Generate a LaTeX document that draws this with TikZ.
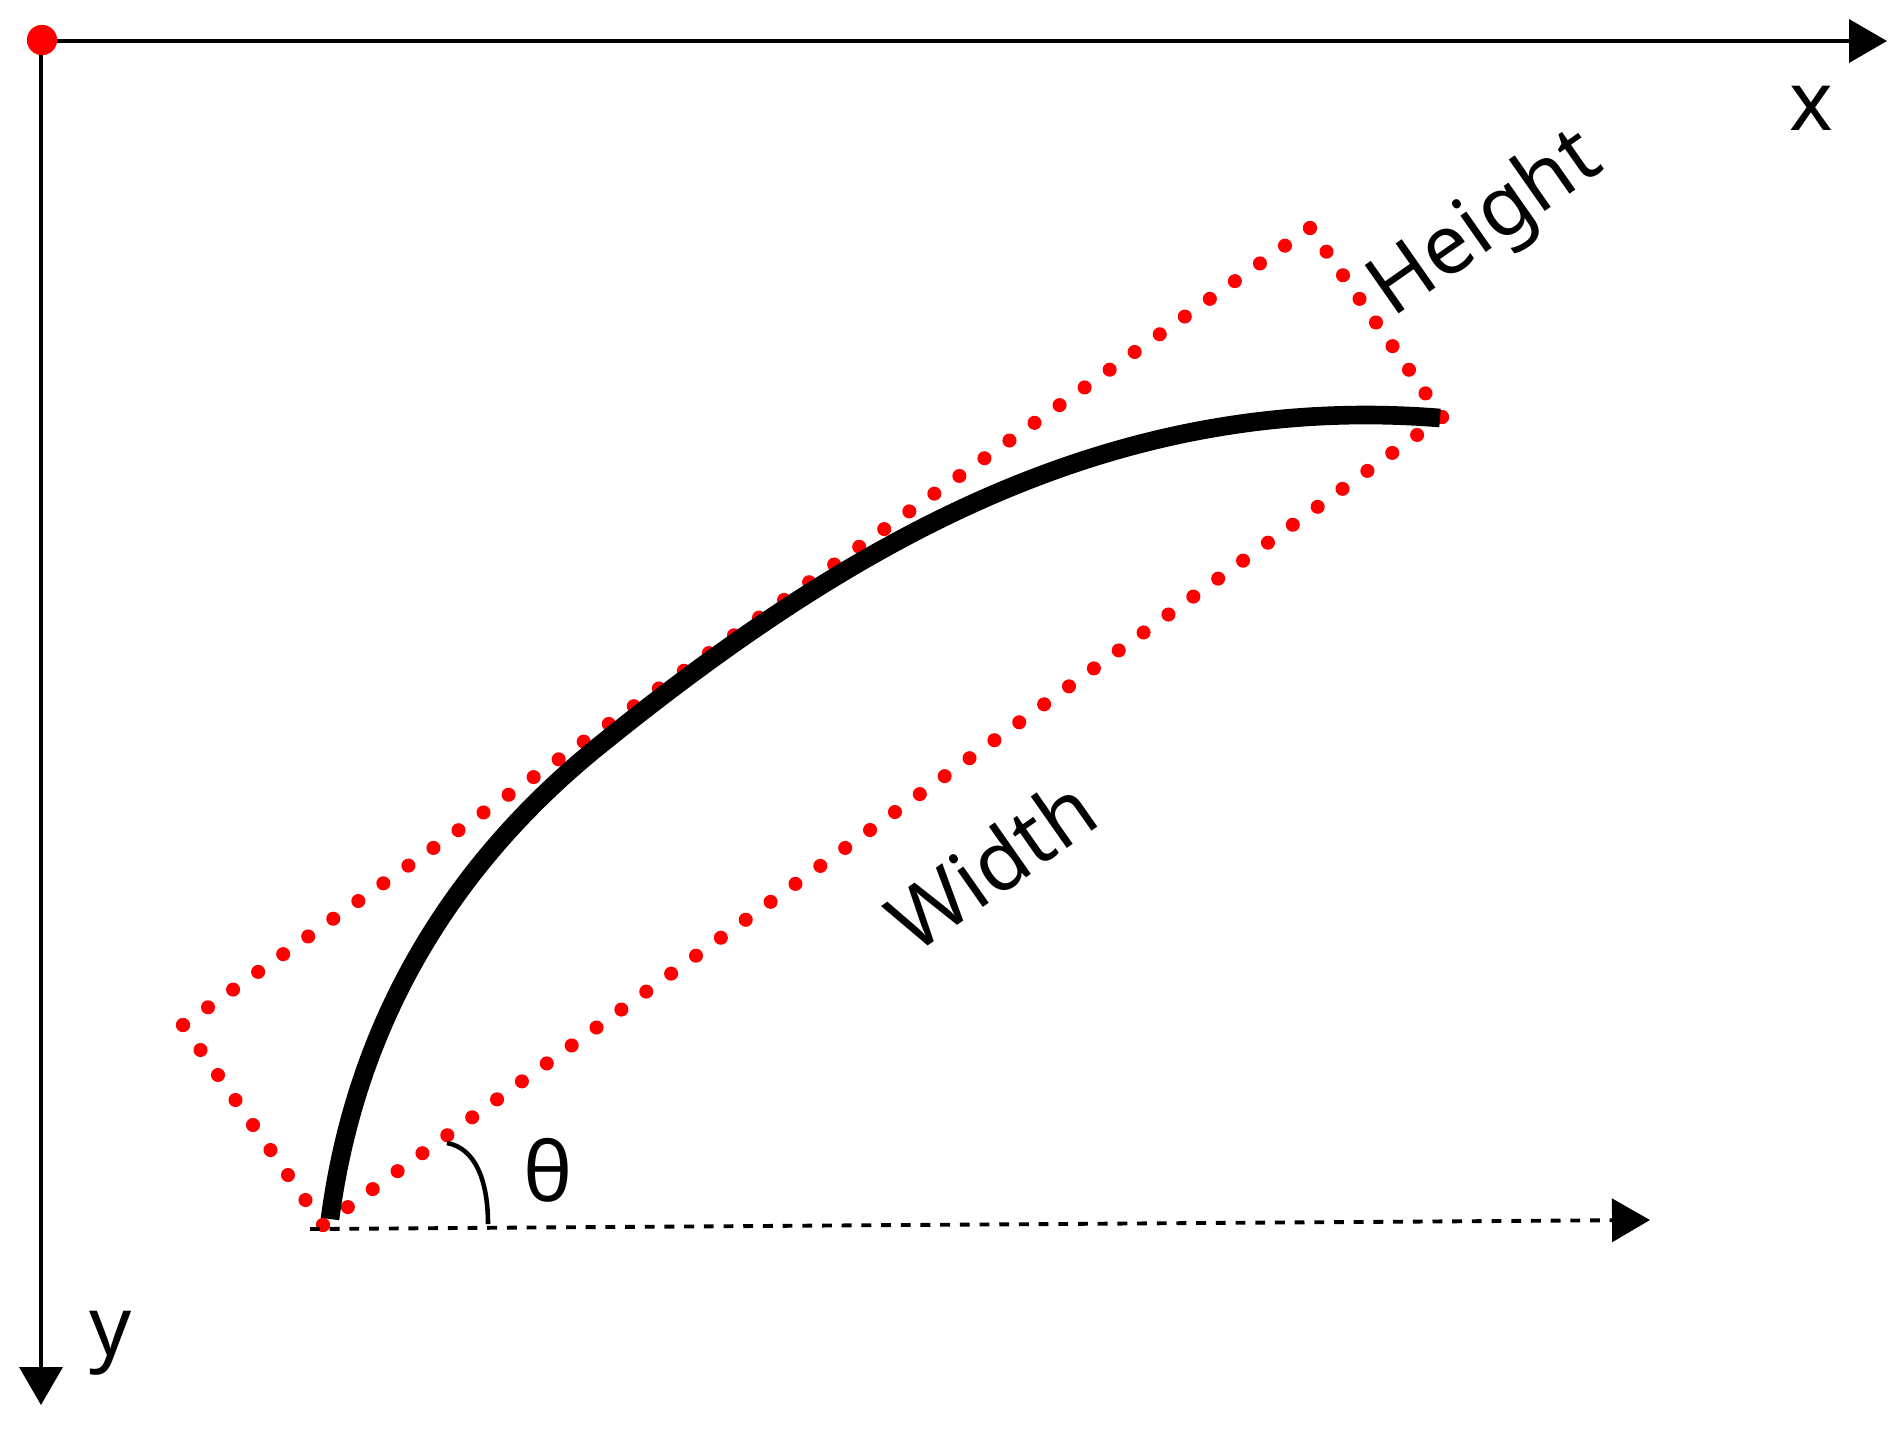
\documentclass[tikz,border=0pt]{standalone}
\usepackage{fontspec}
\setmainfont{Noto Sans}
\usetikzlibrary{arrows.meta,calc}
\begin{document}
\begin{tikzpicture}[x=0.01cm,y=-0.01cm,
  tip/.style={-{Triangle[length=10.8pt,width=12.2pt]}},
  axis/.style={line width=1.15pt, tip},
  refline/.style={line width=1.1pt, dash pattern=on 2.8pt off 2.8pt, tip},
  bowline/.style={line width=5.3pt},
  anglearc/.style={line width=1.3pt},
  lbl/.style={inner sep=0pt, font=\fontsize{23.5}{28}\selectfont}]
\useasboundingbox (0,0) rectangle (1903,1433);
% axes
\coordinate (O) at (41,41);
\coordinate (Xend) at (1887,41);
\coordinate (Yend) at (41,1405);
\draw[axis] (O) -- (Xend);
\draw[axis] (O) -- (Yend);
\fill[red] (42,40) circle (4.3pt);
\node[lbl] (xl) at (1811,108) {x};
\node[lbl] (yl) at (111,1343) {y};
% dotted bounding rectangle
\coordinate (A) at (323,1225);
\coordinate (B) at (1442,417);
\coordinate (C) at (1310,228);
\coordinate (D) at (183,1025);
\foreach \i in {0,...,45} \fill[red] ($(A)!\i/45!(B)$) circle (2pt);
\foreach \i in {0,...,8} \fill[red] ($(B)!\i/8!(C)$) circle (2pt);
\foreach \i in {0,...,45} \fill[red] ($(C)!\i/45!(D)$) circle (2pt);
\foreach \i in {0,...,8} \fill[red] ($(D)!\i/8!(A)$) circle (2pt);
% horizontal reference
\coordinate (H0) at (310,1229);
\coordinate (H1) at (1650,1220);
\draw[refline] (H0) -- (H1);
% bow curve
\coordinate (P0) at (330,1219);
\coordinate (PM) at (600,745);
\coordinate (P3) at (1440,418);
\draw[bowline] (P0) .. controls (358.6,1001) and (471,849) .. (PM)
  .. controls (849.6,543.4) and (1110,391.6) .. (P3);
% angle
\coordinate (T0) at (447,1143);
\coordinate (T1) at (488,1224);
\draw[anglearc] (T0) .. controls (475,1148) and (488,1180) .. (T1);
\node[lbl] (th) at (548,1170) {θ};
% labels
\node[lbl, rotate=35] (wl) at (991,864) {Width};
\node[lbl, rotate=35] (hl) at (1487,226) {Height};
\end{tikzpicture}
\end{document}
